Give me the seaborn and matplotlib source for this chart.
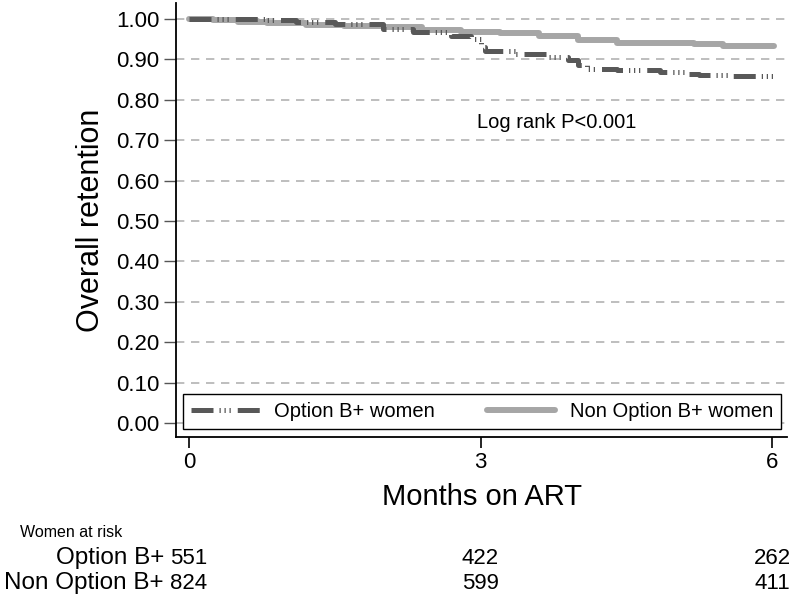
import pandas as pd
import matplotlib.pyplot as plt
import matplotlib.transforms as mtransforms
import seaborn as sns


# Kaplan-Meier step points
months_b = [0, 0.8, 1.1, 1.5, 2.0, 2.3, 2.7, 2.9, 3.0, 3.05, 3.35, 3.7, 3.9, 4.0, 4.1, 4.4, 4.85, 5.1, 5.25, 5.6, 6.02]
surv_b = [1.0, 0.997, 0.993, 0.988, 0.975, 0.967, 0.958, 0.950, 0.930, 0.920, 0.913, 0.905, 0.898, 0.885, 0.876,
          0.873, 0.870, 0.865, 0.862, 0.858, 0.855]

months_nb = [0, 0.25, 0.5, 0.8, 1.2, 1.6, 2.0, 2.4, 2.8, 3.2, 3.6, 4.0, 4.4, 4.8, 5.2, 5.5, 5.8, 6.02]
surv_nb = [1.0, 0.997, 0.993, 0.990, 0.986, 0.983, 0.979, 0.973, 0.969, 0.966, 0.958, 0.948, 0.941, 0.940,
           0.937, 0.933, 0.932, 0.932]

groups = ["Option B+ women", "Non Option B+ women"]
risk_labels = ["Option B+", "Non Option B+"]
risk_months = [0, 3, 6]
risk_b = [551, 422, 262]
risk_nb = [824, 599, 411]
y_ticks = [0.0, 0.1, 0.2, 0.3, 0.4, 0.5, 0.6, 0.7, 0.8, 0.9, 1.0]
x_ticks = [0, 3, 6]

sns.set_style("white", {"text.color": "black", "axes.labelcolor": "black",
                        "xtick.color": "black", "ytick.color": "black"})
plt.rcParams["font.family"] = ["Liberation Sans", "DejaVu Sans"]

fig = plt.figure(figsize=(8, 5.97), dpi=100)
ax = fig.add_axes([0.22, 0.268, 0.76375, 0.727])

df_b = pd.DataFrame({"month": months_b, "surv": surv_b})
df_nb = pd.DataFrame({"month": months_nb, "surv": surv_nb})

sns.lineplot(data=df_nb, x="month", y="surv", drawstyle="steps-post", color="#a6a6a6", lw=4.3,
             estimator=None, label=groups[1], ax=ax, zorder=3)
sns.lineplot(data=df_b, x="month", y="surv", drawstyle="steps-post", color="#585858", lw=3.6,
             estimator=None, label=groups[0], ax=ax, zorder=4)
line_b = ax.get_lines()[1]
line_b.set_dashes((4.4, 1.2, 0.25, 0.75, 0.25, 0.75, 0.25, 1.4))
line_b.set_dash_capstyle("butt")

ax.set_xlim(-0.134, 6.154)
ax.set_ylim(-0.0347, 1.0396)
ax.set_yticks(y_ticks)
ax.set_yticklabels([f"{v:.2f}" for v in y_ticks])
ax.set_xticks(x_ticks)
ax.tick_params(axis="y", left=True, direction="out", length=9, width=1, color="#555555",
               labelcolor="black", labelsize=16, pad=3)
ax.tick_params(axis="x", bottom=True, direction="out", length=8, width=1.2, color="black",
               labelcolor="black", labelsize=16, pad=3)
ax.yaxis.grid(True, linestyle=(0, (5, 4)), color="#b3b3b3", lw=1.2)
ax.xaxis.grid(False)
ax.set_axisbelow(True)
for s in ["top", "right"]:
    ax.spines[s].set_visible(False)
for s in ["left", "bottom"]:
    ax.spines[s].set_color("black")
    ax.spines[s].set_linewidth(1.3)

ax.set_xlabel("Months on ART", fontsize=21, labelpad=7, color="black")
ax.set_ylabel("Overall retention", fontsize=22, labelpad=7, color="black")

ax.text(2.96, 0.745, "Log rank P<0.001", fontsize=14.5, ha="left", va="center", color="black")

handles, labels = ax.get_legend_handles_labels()
order = [labels.index(g) for g in groups]
leg = ax.legend([handles[i] for i in order], [labels[i] for i in order], ncol=2, loc="lower left",
                bbox_to_anchor=(0.0115, 0.018, 0.9785, 0.088), mode="expand", borderaxespad=0,
                fontsize=14.5, handlelength=3.4, handletextpad=0.7, frameon=True, fancybox=False,
                edgecolor="black", framealpha=1, labelcolor="black")
leg.get_frame().set_linewidth(1.0)

# numbers at risk table under the axis
trans = mtransforms.blended_transform_factory(ax.transData, fig.transFigure)
fig.text(20 / 800, 1 - 537 / 597, "Women at risk", fontsize=11.5, ha="left", va="baseline", color="black")
for lab, vals, ypx in [(risk_labels[0], risk_b, 564), (risk_labels[1], risk_nb, 589)]:
    fig.text(164 / 800, 1 - ypx / 597, lab, fontsize=17.5, ha="right", va="baseline", color="black")
    for m, v in zip(risk_months, vals):
        ax.text(m, 1 - ypx / 597, str(v), transform=trans, fontsize=16, ha="center", va="baseline",
                color="black")

fig.savefig("out.png", dpi=100)
